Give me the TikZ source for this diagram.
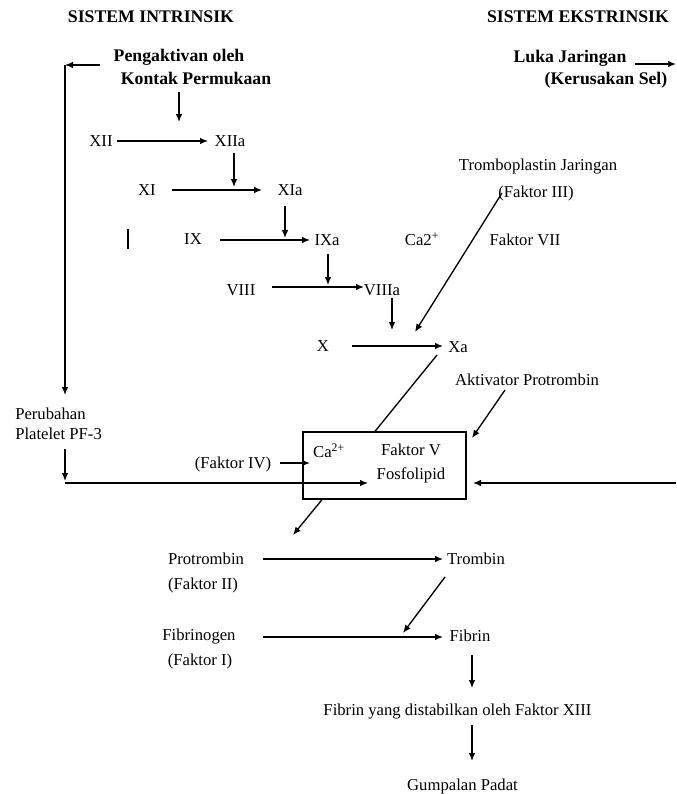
\documentclass[tikz,border=0pt]{standalone}
\usepackage{fontspec}
\setmainfont{Liberation Serif}
\usetikzlibrary{arrows.meta}
\begin{document}
\begin{tikzpicture}[x=0.75pt,y=-0.75pt,
  txt/.style={font=\fontsize{12.5}{15}\selectfont, inner sep=0pt, text height=0.9em, text depth=0.1em},
  hdr/.style={font=\fontsize{13.3}{16}\selectfont\bfseries, inner sep=0pt, text height=0.9em, text depth=0.1em},
  arr/.style={-{Latex[length=6pt,width=5pt]}, line width=1pt},
  ln/.style={line width=1pt}]
\useasboundingbox (0,0) rectangle (676,794);

% headers
\node[hdr] (si) at (151,17) {SISTEM INTRINSIK};
\node[hdr] (se) at (578,17) {SISTEM EKSTRINSIK};
\node[hdr] (pa1) at (179,56) {Pengaktivan oleh};
\node[hdr] (pa2) at (196,79) {Kontak Permukaan};
\node[hdr] (lj1) at (570,57) {Luka Jaringan};
\node[hdr] (lj2) at (606,79) {(Kerusakan Sel)};

% intrinsic cascade
\node[txt] (xii) at (101,141) {XII};
\node[txt] (xiia) at (230,141) {XIIa};
\node[txt] (xi) at (147,190) {XI};
\node[txt] (xia) at (290,190) {XIa};
\node[txt] (ix) at (193,239) {IX};
\node[txt] (ixa) at (327,240) {IXa};
\node[txt] (viii) at (241,290) {VIII};
\node[txt] (viiia) at (382,290) {VIIIa};
\node[txt] (x) at (323,346) {X};
\node[txt] (xa) at (458,347) {Xa};

% extrinsic
\node[txt] (tj1) at (538,165) {Tromboplastin Jaringan};
\node[txt] (tj2) at (536,192) {(Faktor III)};
\node[txt] (ca) at (422,240) {Ca2\textsuperscript{+}};
\node[txt] (f7) at (525,240) {Faktor VII};

% platelet
\node[font=\fontsize{12.5}{15}\selectfont, inner sep=0pt, align=left, anchor=west] (pf) at (15,424) {Perubahan\\Platelet PF-3};
\node[txt] (f4) at (233,463) {(Faktor IV)};

% box
\node[draw, line width=1pt, minimum width=122.25pt, minimum height=50.25pt, inner sep=0pt] (box) at (384.5,465.5) {};
\node[txt] (cab) at (329,452) {Ca\textsuperscript{2+}};
\node[txt] (fv) at (411,450) {Faktor V};
\node[txt] (fos) at (411,474) {Fosfolipid};
\node[txt] (ap) at (527,380) {Aktivator Protrombin};

% common pathway
\node[txt] (pro) at (206,559) {Protrombin};
\node[txt] (f2) at (203,584) {(Faktor II)};
\node[txt] (tro) at (476,559) {Trombin};
\node[txt] (fbg) at (199,635) {Fibrinogen};
\node[txt] (f1) at (200,660) {(Faktor I)};
\node[txt] (fib) at (470,636) {Fibrin};
\node[txt] (fs) at (457.5,710) {Fibrin yang distabilkan oleh Faktor XIII};
\node[txt] (gp) at (462.5,785) {Gumpalan Padat};

% connectors
\coordinate (c1) at (65,65);
\draw[arr] (100,0 |- c1) -- (c1);
\draw[arr] (c1) -- (c1 |- 0,395);
\draw[arr] (179,92) -- (179,122);
\draw[arr] (635,64) -- (676,64);

\draw[arr] (117,0 |- xii) -- (208,0 |- xii);
\draw[arr] (234,153) -- (234,187);
\draw[arr] (172,0 |- xi) -- (262,0 |- xi);
\draw[arr] (285,206) -- (285,238);
\draw[arr] (220,240) -- (310,240);
\draw[arr] (328,254) -- (328,285);
\draw[arr] (272,287) -- (364,287);
\draw[arr] (392,298) -- (392,330);
\draw[arr] (352,0 |- x) -- (443,0 |- x);
\draw[line width=1.6pt] (128,229) -- (128,249);

\draw[arr] (502,193) -- (415,332);
\draw[ln] (437,355) -- (375,0 |- box.north);
\draw[arr] (505,390) -- (472,438);

\draw[arr] (65,449) -- (65,481);
\draw[arr] (65,483) -- (368,483);
\draw[arr] (676,483) -- (473,483);
\draw[arr] (280,0 |- f4) -- (310,0 |- f4);
\draw[arr] (322,0 |- box.south) -- (293,535);

\draw[arr] (263,0 |- tro) -- (443,0 |- tro);
\draw[arr] (445,577) -- (403,633);
\draw[arr] (263,637) -- (443,637);
\draw[arr] (472,655) -- (472,688);
\draw[arr] (472,725) -- (472,761);
\end{tikzpicture}
\end{document}
